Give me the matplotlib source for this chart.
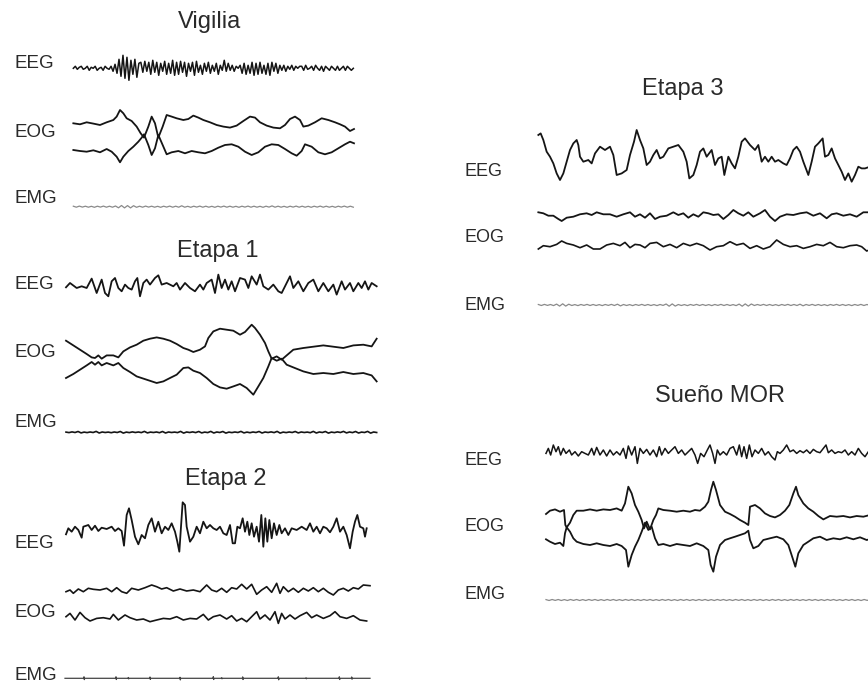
import numpy as np
import matplotlib
matplotlib.use("Agg")
import matplotlib.pyplot as plt

plt.rcParams['font.family'] = ['Liberation Sans', 'DejaVu Sans']

W, H = 868, 685
SAMPLES_PER_PX = 3.0

# ---------------- Vigilia ----------------
vig_eeg = [0, 2, -1, 1, 2, -1, 0, 2, -2, 1, 0, 2, -2, 0, 1, -2, 2, 0, -1,
           2, -3, 4, -5, 9, -8, 13, -10, 11, -12, 8, -6, 9, -9, 5,
           6, -4, 7, -3, 6, -6, 8, -4, 6, -7, 5, -3, 7, -6, 5, -5, 8, -7, 6, -6, 7, -4,
           6, -8, 5, -3, 6, -7, 7, -4, 3, -6, 5, -3, 6, -5, 3, -3, 5, -6, 3, -2, 8, -3,
           5, -2, 3, -3, 2, 0, 3, -5, 5, -6, 3, -5, 6, -7, 5, -6, 6, -5, 3, -6, 5, -7,
           6, -3, 5, -5, 3, -2, 3, -3, 2, -1, 3, -2, 2, 0, 2,
           2, -2, 3, -1, 0, 2, -2, 3, 0, -2, 2, -3, 2, 0, -2, 2, 0, -2, 2, -2, 0, 2,
           -2, 2, 0, -2, 0]

vig_eog_t = [10, 30, 50, 70, 90, 110, 130, 140, 150, 160, 170, 185, 200, 212, 222,
             235, 245, 255, 265, 278, 290, 305, 320, 340, 355, 370, 385, 400, 420,
             440, 460, 480, 500, 520, 540, 555, 570, 590, 610, 630, 645, 660, 675,
             690, 700, 715, 735, 755, 775, 795, 810, 825, 840, 852]
vig_eog_up = [0, -1, 1, -0.3, -1.7, 1, 3.3, 6.7, 13.3, 10, 5, 2.3, -3.3, -10, -14.3,
              -3.3, 6.7, 0, -14.3, -3.3, 8.3, 6.7, 5, 3.3, 4.3, 7.7, 5.7, 3.3, 1,
              -1.7, -3.3, -4.3, -2.3, 2.3, 6.7, 5.7, 1, -2.3, -4.3, -5, -1.7, 4.3, 6.7,
              3.3, -3.3, -2.3, 1, 5, 3.3, 1, -1, -3.3, -7.7, -5.7]
vig_eog_lo_t = [10, 30, 50, 70, 90, 110, 125, 140, 150, 160, 175, 190, 205, 215, 222,
                235, 245, 255, 265, 278, 290, 305, 325, 345, 365, 385, 405, 425, 445,
                465, 485, 505, 525, 545, 565, 585, 605, 625, 645, 665, 680, 695, 705,
                725, 745, 765, 785, 805, 825, 840, 852]
vig_eog_lo = [1, 0, -0.7, 0.7, -1.3, 2, -0.7, -5.7, -11.3, -5.7, 0, 4.3, 9.3, 13.3, 16.7,
              6, -4, 2.7, 16, 6, -3.3, -1.3, 0, -2.3, 0, -1.3, -2.3, 0, 3.3,
              6, 6.7, 4.3, -0.7, -4, -1.3, 4.3, 6.7, 6, 2, -2.3, -4.7, 0, 6.7,
              4.3, -1.3, -3.3, -1.3, 2.7, 6.7, 9.3, 7.7]
vig_emg = [0.5, -0.5, 0.6, -0.4, 0.5, -0.5, 0.4, -0.6, 0.5, -0.4, 0.6, -0.5, 0.5, -0.5,
           0.7, -1.1, 1.2, -1.2, 1.1, -1.2, 1.0, -0.6, 0.5, -0.5, 0.6, -0.4, 0.5, -0.5,
           0.4, -0.6, 0.5, -0.4, 0.6, -0.5, 0.5, -0.5, 0.9, -0.5, 0.4, -0.6, 0.5, -0.4,
           0.6, -0.5, 0.5, -0.5, 0.4, -0.6, 0.5, -0.4, 0.6, -0.5, 0.5, -0.5, 0.4, -0.6,
           0.5, -0.4, 0.6, -0.5, 0.5, -0.5, 0.4, -0.6, 0.5, -0.4, 0.8, -0.5, 0.5, -0.5,
           0.4, -0.6, 0.5, -0.4, 0.6, -0.5, 0.5, -0.5, 0.4, -0.6, 0.5, -0.4, 0.6, -0.5,
           0.5, -0.5, 0.4, -0.6, 0.5, -0.4, 0.6, -0.5, 0.5, -0.5]

# ---------------- Etapa 1 ----------------
e1_eeg_t = [18, 30, 50, 65, 80, 95, 110, 125, 135, 145, 155, 165, 175, 185, 195, 205,
            215, 225, 232, 240, 250, 260, 270, 285, 295, 305, 320, 340, 350, 360, 375,
            390, 405, 420, 430, 440, 455, 465, 475, 485, 495, 505, 515, 525, 540, 555,
            565, 575, 590, 600, 610, 625, 640, 655, 665, 680, 690, 700, 715, 730, 745,
            760, 775, 790, 805, 820, 830, 845, 855, 870, 880, 895, 905, 915, 925, 935, 950]
e1_eeg = [0, 4.3, -0.7, 1, -0.7, 8.7, -5.7, 7.7, -5.7, -9, 6, 9.3, -0.7, -4, 2.7, -0.7,
          -2.3, 6, 9.3, -9, 4.3, 7.7, 2.7, 9.3, 12, 2.7, 4.3, 1, 4.3, -2.3, 4.3,
          -0.7, -4, 2.7, -2.3, 4.3, 7.7, -5.7, 12.7, -0.7, 7.7, -2.3, 6, -4, 9.3, 7.7,
          -0.7, 11, 2.7, 12.7, 1, -2.3, 2.7, -4, -5.7, 4.3, 11, -0.7, 6, -4, 4.3,
          7.7, -4, 4.3, -4, 2.7, -7.3, 6, -2.3, 4.3, -4, 4.3, -0.7, 6, -2.3, 4.3, 1]

e1_eog_up_t = [18, 40, 60, 80, 95, 105, 115, 125, 140, 160, 175, 190, 210, 230, 250, 270,
               290, 310, 330, 350, 370, 385, 400, 420, 435, 445, 460, 480, 500, 520, 540,
               555, 575, 585, 600, 615, 625, 635, 650, 665, 680, 700, 730, 760, 790, 820,
               850, 880, 910, 935, 950]
e1_eog_up = [19, 14.3, 10, 5.7, 2.3, 1.7, 4.3, 1, 4.3, 4.3, 2.3, 8.3, 12.3, 15, 19, 21,
             22.3, 21, 19, 15.7, 11.7, 10, 7.7, 10, 13.3, 21.7, 28.3, 31, 30, 29, 25,
             27.7, 35, 31.7, 25, 16.7, 8.3, 1, 3.3, 0, 4.3, 10, 11.7, 13, 14.3, 13,
             11.7, 14.3, 15, 13.3, 21]
e1_eog_lo_t = [18, 40, 60, 80, 95, 105, 115, 125, 140, 160, 175, 190, 210, 230, 260, 290,
               310, 330, 350, 370, 385, 400, 420, 440, 460, 480, 500, 520, 540, 560, 580,
               595, 610, 625, 635, 650, 665, 680, 700, 730, 760, 790, 820, 850, 880, 910,
               935, 950]
e1_eog_lo = [-18.3, -14.3, -10, -5.7, -2.3, -5, -2.3, -5.7, -3.3, -5.7, -3.3, -8.3, -12.3,
             -16.7, -20, -23.3, -21.7, -18.3, -15, -8.3, -7.7, -11, -13.3, -18.3, -24.3,
             -27.7, -29, -26.7, -24.3, -28.3, -35, -26.7, -18.3, -6.7, 1.7, -1, 1, -5,
             -7.7, -11.7, -14.3, -13.3, -14.3, -12.3, -14.3, -13.3, -15.7, -21.7]
e1_emg = [0.2, -0.3, 0.4, -0.2, 0.8, -0.6, 0.2, -0.3, 0.3, -0.2, 0.9, -0.7, 0.3, -0.2,
          0.2, -0.4, 0.3, -0.2, 0.8, -0.8, 0.2, -0.3, 0.4, -0.2, 0.3, -0.3, 0.9, -0.6,
          0.2, -0.2, 0.3, -0.4, 0.8, -0.7, 0.3, -0.2, 0.2, -0.3, 0.9, -0.8, 0.3, -0.2,
          0.4, -0.3, 0.8, -0.6, 0.2, -0.3, 0.9, -0.7, 0.3, -0.2, 0.8, -0.8, 0.2, -0.3,
          0.3, -0.2, 0.9, -0.6, 0.2, -0.4, 0.3, -0.2, 0.8, -0.7, 0.3, -0.2, 0.4, -0.3,
          0.9, -0.8, 0.2, -0.3, 0.3, -0.2, 0.8, -0.6, 0.3, -0.2, 0.2, -0.4, 0.9, -0.7,
          0.3, -0.2, 0.8, -0.8, 0.2, -0.3, 0.4, -0.2, 0.9, -0.6, 0.3, -0.3, 0.8, -0.7,
          0.2, -0.2, 0.9, -0.8, 0.3, -0.2]

# ---------------- Etapa 2 ----------------
e2_eeg_t = [18, 25, 35, 45, 55, 65, 70, 85, 95, 105, 115, 125, 140, 155, 165, 175, 185,
            192, 200, 207, 215, 225, 235, 245, 255, 265, 275, 285, 295, 305, 315, 325,
            335, 345, 352, 358, 363, 368, 375, 380, 390, 400, 410, 420, 430, 440, 450,
            460, 470, 480, 490, 500, 510, 518, 525, 532, 540, 548, 555, 562, 568, 575,
            582, 590, 597, 604, 610, 616, 622, 628, 635, 642, 650, 658, 665, 675, 685,
            695, 710, 725, 740, 750, 760, 770, 780, 790, 800, 810, 820, 830, 840, 850,
            860, 870, 878, 885, 892, 900, 910, 915, 920]
e2_eeg = [-4.3, 1.7, -1.7, 3.3, 0, -7.7, 3.3, 5, 0, 4.3, -1, 2.3, 1, 3.3, -1, 1.7, -1,
          -15.7, 15, 21.7, 10, -6.7, -14.3, -5, -8.3, 5, 11.7, -1.7, 8.3, -3.3, 3.3, 0,
          6.7, -1.7, -11.7, -21.7, 3.3, 27.7, 25, 3.3, -11.7, -6.7, 3.3, -3.3, 8.3, 1.7, 5,
          1.7, 0, 3.3, -3.3, -5, 5, -13.3, -13.3, 3.3, 1.7, 11.7, -1.7, 8.3, -5, 6.7,
          -6.7, 3.3, -11.7, 15, -16.7, 11.7, -11.7, 10, -8.3, 6.7, -5, 5, -3.3, 1.7, -5,
          1.7, 0, 3.3, 0, 6.7, -1.7, 3.3, -3.3, 3.3, 1.7, -2.3, 3.3, 11.7, -1.7, 3.3,
          -5, -18.3, -1.7, 8.3, 15, 3.3, 1.7, -6.7, 1.7]

e2_eog_up_t = [18, 30, 40, 55, 70, 85, 100, 120, 140, 155, 170, 185, 200, 215, 235, 255,
               275, 290, 305, 320, 340, 360, 380, 400, 420, 440, 455, 470, 485, 500, 515,
               530, 545, 560, 575, 590, 605, 620, 635, 650, 660, 670, 685, 700, 715, 730,
               745, 760, 775, 790, 805, 820, 835, 850, 865, 880, 895, 910, 930]
e2_eog_up = [-1.7, 0, -3.3, 1, -1.7, 1.7, 0.7, 0, 1.7, -1.7, 2.3, -1.7, -3.3, 1.7, 0, 2.3,
             5, 3.3, 1, 2.3, -1, 1, -1, 0, -1.7, 5, 0, -1.7, 1.7, -2.3, 2.3,
             1, 5.7, 1, 5.7, -4.3, 0, 3.3, -2.3, 6.7, -3.3, 3.3, -1.7, 1.7, -2.3, 1.7,
             -1, 2.3, -1.7, 1.7, -2.3, -5, 0, 1.7, -1, 2.3, 1, 5, 4.3]
e2_eog_lo_t = [18, 30, 45, 60, 75, 90, 110, 130, 150, 160, 175, 195, 210, 230, 250, 270,
               290, 310, 330, 350, 370, 390, 410, 430, 445, 460, 480, 500, 515, 530, 545,
               560, 575, 590, 600, 615, 630, 645, 655, 665, 675, 690, 705, 720, 740, 755,
               770, 790, 810, 825, 840, 860, 880, 900, 920]
e2_eog_lo = [1, 4.3, -2.3, 5.3, 0, -3.3, -0.7, 0, -1.3, 3.3, -2.3, 2.7, 0, -2.3, -1.3, -4,
             -2.3, -0.7, -1.3, 1, -2.3, -0.7, -1.3, 3.3, -2.3, 1, 2.7, -1.3, 2, -3.3, -0.7,
             -4, 1, 6, -1.3, 2.7, -2.3, 6, -5.7, 4.3, -1.3, 2.7, -1.3, 2, 5.3, 0,
             2.7, -0.7, 2, 6, 1, -0.7, 2, -2.3, -3.3]
e2_emg_t = [15, 71, 72, 73, 74, 167, 168, 169, 170, 204, 205, 206, 207, 269, 270, 271, 272,
            359, 360, 361, 362, 459, 460, 461, 462, 484, 485, 486, 487, 547, 548, 549, 550,
            654, 655, 656, 657, 737, 738, 739, 740, 837, 838, 839, 840, 874, 875, 876, 877, 930]
e2_emg = [0, 0, 1.5, -1.3, 0, 0, 1.5, -1.2, 0, 0, 0.8, -0.6, 0, 0, 1.3, -1.1, 0,
          0, 1.0, -1.6, 0, 0, 1.6, -1.2, 0, 0, 0.6, -0.5, 0, 0, 1.4, -1.2, 0,
          0, 1.5, -1.5, 0, 0, 0.5, -0.5, 0, 0, 1.5, -1.2, 0, 0, 1.3, -0.9, 0, 0]

# ---------------- Etapa 3 ----------------
e3_eeg_t = [25, 32, 40, 50, 60, 70, 80, 90, 100, 110, 120, 130, 140, 145, 150, 160, 175,
            185, 195, 210, 225, 240, 250, 260, 275, 290, 300, 312, 320, 330, 340, 350,
            360, 370, 380, 390, 400, 415, 430, 445, 460, 470, 478, 490, 500, 510, 520,
            530, 545, 555, 565, 575, 583, 595, 605, 615, 625, 635, 645, 660, 675, 685,
            695, 705, 715, 725, 735, 745, 760, 770, 780, 790, 800, 810, 820, 835, 845,
            855, 865, 878, 885, 895, 905, 915, 925, 935, 945, 955, 965, 975, 985, 995,
            1005, 1020]
e3_eeg = [21.7, 23.3, 16.7, 5, 0, -6.7, -16.7, -23.3, -16.7, -5, 6.7, 13.3, 16.7, 11.7, 0,
          -5, -3.3, -6.7, 3.3, 10, 6.7, 10, 1.7, -18.3, -16.7, -13.3, 1.7, 15, 26.7, 16.7,
          8.3, -8.3, -5, 1.7, 6.7, -1.7, 0, 8.3, 10, 11.7, 5, -5, -21.7, -18.3, -8.3,
          5, 8.3, 0, 6.7, -8.3, -1.7, 0, -18.3, 0, -6.7, -11.7, 0, 15, 18.3, 11.7, 6.7,
          11.7, -5, 0, -5, 0, -5, -3.3, -6.7, -8.3, -1.7, 6.7, 10, 5, -5, -18.3, -5,
          10, 13.3, 18.3, 0, 1.7, 8.3, -1.7, -8.3, -15, -23.3, -16.7, -25, -18.3, -10,
          -11.7, -11.7, -10]

e3_eog_up_t = [25, 40, 55, 70, 85, 95, 110, 130, 150, 170, 185, 200, 220, 240, 260, 280,
               300, 315, 330, 345, 360, 375, 390, 410, 430, 445, 460, 475, 490, 505, 520,
               535, 550, 565, 580, 595, 610, 625, 640, 655, 670, 690, 705, 720, 735, 750,
               770, 790, 810, 830, 850, 870, 890, 905, 920, 940, 960, 980, 1000, 1020]
e3_eog_up = [2.7, 1.7, -0.7, -0.7, -4, -6, -2.7, -1.7, 0.7, 1.7, 0, 2.7, 0.7, 0.7, -1.7,
             0.7, 2.7, -1.7, 0.7, -2.7, 1.7, -4, -1.7, -0.7, 2.7, 0, 1.7, -2.7, 0.7, -1.7,
             2.7, 1.7, 0, 0.7, -4, 0, 5, 1.7, -0.7, 2.7, -1.7, 1.7, 5, -1.7, -6, -1.7,
             0.7, 0, 1.7, 2.7, -0.7, 1.7, -3.3, 0.7, 1.7, -0.7, 0.7, -1.7, 2.7, 2.7]
e3_eog_lo_t = [25, 40, 60, 80, 95, 110, 130, 150, 170, 190, 210, 230, 250, 270, 285, 300,
               315, 330, 345, 360, 380, 400, 420, 440, 460, 480, 500, 520, 540, 560, 580,
               600, 620, 640, 660, 680, 700, 720, 740, 760, 780, 800, 820, 840, 860, 880,
               900, 920, 940, 960, 980, 995, 1010, 1020]
e3_eog_lo = [-2.3, 1, 0, 2.3, 5.7, 3.3, 1.7, -1, 1.7, -2.3, -2.3, 1.7, 3.3, 1, 4.3, -1,
             2.3, 1.7, -1, 3.3, 4.3, 0, 2.3, -1, 3.3, 1, 3.3, 1, -3.3, 0, 1,
             5, 1.7, 3.3, -1.7, 1, -2.3, 0, 6.7, 2.3, 0, 1, -1.7, 0, 2.3, 1,
             4.3, 0, -1, 1, 1.7, 0, -4.3, -3]
e3_emg = [0.5, -0.5, 0.6, -0.4, 0.5, -0.6, 0.9, -1.1, 1.2, -1.1, 0.8, -0.5, 0.4, -0.6,
          0.5, -0.4, 0.6, -0.5, 0.5, -0.5, 0.4, -0.6, 0.5, -0.4, 0.6, -0.5, 0.8, -0.9,
          0.5, -0.5, 0.4, -0.6, 0.5, -0.4, 0.6, -0.5, 0.5, -0.5, 0.4, -0.6, 0.5, -0.4,
          1.0, -1.2, 1.1, -1.1, 0.5, -0.5, 0.4, -0.6, 0.5, -0.4, 0.6, -0.5, 0.5, -0.5,
          0.4, -0.6, 0.5, -0.4, 0.6, -0.5, 0.5, -0.5, 0.4, -0.6, 0.9, -1.2, 1.1, -1.1,
          1.0, -0.5, 0.5, -0.4, 0.6, -0.5, 0.5, -0.5, 0.4, -0.6, 0.5, -0.4, 0.6, -0.5,
          0.5, -0.5, 0.8, -0.8, 0.5, -0.4, 0.6, -0.5, 0.5, -0.5, 0.4, -0.6, 0.5, -0.4,
          0.6, -0.5, 0.5, -0.5, 0.4, -0.6, 0.5, -0.4, 0.6, -0.5, 0.5, -0.5]

# ---------------- Sueño MOR ----------------
mor_eeg_t = [18, 25, 32, 40, 48, 55, 62, 70, 78, 88, 95, 105, 115, 125, 135, 145, 155, 162,
             170, 180, 190, 200, 210, 220, 230, 240, 250, 258, 265, 275, 285, 292, 300,
             310, 320, 330, 340, 350, 358, 365, 375, 385, 395, 405, 415, 425, 435, 445,
             455, 465, 473, 482, 492, 502, 510, 518, 525, 532, 540, 550, 560, 570, 580,
             590, 598, 605, 612, 620, 628, 636, 645, 655, 665, 675, 685, 695, 705, 712,
             720, 730, 740, 750, 760, 770, 780, 790, 800, 810, 820, 830, 840, 850, 858,
             865, 875, 885, 895, 905, 915, 925, 935, 945, 955, 965, 975, 985, 1000]
mor_eeg = [-0.7, 4.3, -2.3, 7.7, 1, 6, -2.3, 4.3, -0.7, 2.7, -2.3, 1, -3.3, 1, -0.7, -2.3,
           4.3, -2.3, 5.3, -2.3, 2.7, -3.3, 2.7, -2.3, 1, -2.3, 4.3, -5.7, 6.7, -2.3, 6,
           -10.7, 4.3, -0.7, 3.3, -2.3, 2.7, -4, 6, -2.3, 4.3, -0.7, 2.7, 6, -0.7, 2.7,
           -2.3, 1, 4.3, -2.3, -10.7, -0.7, -4, 2.7, 7.7, -0.7, -10.7, 2.7, -2.3, 1, -2.3,
           4.3, 6, -2.3, 7.7, -4, 6, -5.7, 7.7, -4, 2.7, -0.7, 4.3, -2.3, 1, -4, -7.3, 1,
           -0.7, 2.7, 7.7, 1, 2.7, -0.7, 2, 0, 2.7, -0.7, 3.3, 1, 0, 4.3, 7.7, 0, 2.7,
           -0.7, 1, 0, 2.7, -2.3, 1, -2.3, 4.3, -0.7, -4, 1, 0]

mor_eog_up_t = [18, 30, 45, 60, 72, 76, 80, 90, 100, 110, 130, 150, 170, 190, 210, 230,
                245, 255, 265, 275, 285, 295, 305, 312, 320, 330, 340, 348, 355, 370, 390,
                410, 430, 450, 465, 480, 495, 505, 513, 520, 528, 540, 555, 570, 585, 600,
                615, 625, 630, 645, 660, 675, 690, 705, 720, 735, 748, 760, 768, 775, 790,
                805, 820, 835, 850, 870, 890, 910, 930, 950, 970, 990, 1000]
mor_eog_up = [-2.3, 1, 2.3, 0, 1.7, -13.3, -15.7, -11, -3.3, 1, 1, 2.3, 1, 2.3, 1.7, 3.3,
              1, 8.3, 25, 18.3, 6.7, 0, -8.3, -16.7, -10, -17.7, -8.3, -3.3, 3.3, 1.7, 1,
              0, 1, 0, 1.7, 1, 5, 10, 21.7, 30, 21.7, 6.7, 0, -2.3, -5, -8.3,
              -11, -13.3, 5, 6.7, 3.3, -1.7, -4.3, -5.7, -3.3, 1, 6.7, 18.3, 25, 16.7, 8.3,
              3.3, 0, -4.3, -7.7, -4.3, -5, -4.3, -5.7, -4.3, -5, -3.3, -4]
mor_eog_lo_t = [18, 30, 45, 60, 70, 75, 80, 90, 100, 110, 130, 150, 170, 190, 210, 230,
                245, 258, 265, 275, 285, 295, 305, 315, 325, 335, 345, 355, 370, 390, 410,
                430, 450, 470, 490, 505, 512, 520, 528, 540, 555, 570, 585, 600, 615, 625,
                630, 640, 655, 670, 690, 710, 730, 745, 758, 766, 775, 790, 805, 820, 840,
                860, 880, 900, 920, 940, 960, 980, 1000]
mor_eog_lo = [0.7, -1.7, -4, -2.7, -6, 6.7, 12.7, 8.3, 1.7, -1.7, -4, -5, -3.3, -5, -6, -4,
              -6, -10, -26.7, -15, -6.7, 0, 8.3, 17.3, 10, 13.3, 1.7, -5, -4, -6, -4,
              -5, -6, -3.3, -6, -10, -25, -31.7, -16.7, -5, 0, 1.7, 3.3, 5, 6.7, 9.3,
              0, -8.3, -6, 0, 1.7, 3.3, 0.7, -5, -18.3, -26.7, -13.3, -5, -1.7, 1.7, 3.3,
              0, 1.7, 0.7, 2.7, 0.7, 2.7, 0, 1.7]
mor_emg = [0.4, -0.5, 0.5, -0.4, 0.5, -0.5, 0.4, -0.5, 0.5, -0.4, 0.5, -0.5, 0.4, -0.5,
           0.5, -0.4, 0.5, -0.5, 0.4, -0.5, 0.5, -0.4, 0.5, -0.5, 0.4, -0.5, 0.5, -0.4,
           0.5, -0.5, 0.4, -0.5, 0.5, -0.4, 0.5, -0.5, 0.4, -0.5, 0.5, -0.4, 0.5, -0.5,
           0.4, -0.5, 0.5, -0.4, 0.5, -0.5, 0.4, -0.5, 0.5, -0.4, 0.5, -0.5, 0.4, -0.5,
           0.5, -0.4, 0.5, -0.5, 0.4, -0.5, 0.5, -0.4, 0.5, -0.5, 0.4, -0.5, 0.5, -0.4,
           0.5, -0.5, 0.4, -0.5, 0.5, -0.4, 0.5, -0.5, 0.4, -0.5, 0.5, -0.4, 0.5, -0.5,
           0.4, -0.5, 0.5, -0.4, 0.5, -0.5, 0.4, -0.5, 0.5, -0.4, 0.5, -0.5, 0.4, -0.5,
           0.5, -0.4, 0.5, -0.5, 0.4, -0.5, 0.5, -0.4, 0.5, -0.5]

titles = ["Vigilia", "Etapa 1", "Etapa 2", "Etapa 3", "Sueño MOR"]
channels = ["EEG", "EOG", "EMG"]

fig = plt.figure(figsize=(W / 100, H / 100), dpi=100)
fig.patch.set_facecolor('white')

INK = '#151515'
GREY = '#8a8a8a'


def trace(t, v, origin, y0, color=INK, lw=1.3):
    # one transparent axes per trace; 1 y-unit = 1 pixel, t in samples
    t = np.asarray(t, float)
    x0 = origin + t.min() / SAMPLES_PER_PX
    x1 = origin + t.max() / SAMPLES_PER_PX
    half = 45
    ax = fig.add_axes([x0 / W, 1 - (y0 + half) / H, (x1 - x0) / W, 2 * half / H])
    ax.set_xlim(t.min(), t.max())
    ax.set_ylim(-half, half)
    ax.axis('off')
    ax.patch.set_alpha(0)
    ax.plot(t, v, color=color, lw=lw, clip_on=False)
    return ax


def uniform(vals, t0, t1):
    return np.linspace(t0, t1, len(vals))


# Vigilia (left, top)
trace(uniform(vig_eeg, 10, 850), vig_eeg, 70, 68.3, lw=1.1)
trace(vig_eog_t, vig_eog_up, 70, 123.3)
trace(vig_eog_lo_t, vig_eog_lo, 70, 151)
trace(uniform(vig_emg, 10, 850), vig_emg, 70, 206.7, color=GREY, lw=0.9)

# Etapa 1
trace(e1_eeg_t, e1_eeg, 60, 287.3)
trace(e1_eog_up_t, e1_eog_up, 60, 359.7)
trace(e1_eog_lo_t, e1_eog_lo, 60, 359.7)
trace(uniform(e1_emg, 18, 950), e1_emg, 60, 432.3, lw=1.2)

# Etapa 2
trace(e2_eeg_t, e2_eeg, 60, 530)
trace(e2_eog_up_t, e2_eog_up, 60, 590, lw=1.2)
trace(e2_eog_lo_t, e2_eog_lo, 60, 617.7, lw=1.2)
trace(e2_emg_t, e2_emg, 60, 678.3, color='#444444', lw=0.9)

# Etapa 3 (right, top)
trace(e3_eeg_t, e3_eeg, 530, 156.7)
trace(e3_eog_up_t, e3_eog_up, 530, 215)
trace(e3_eog_lo_t, e3_eog_lo, 530, 246.7, lw=1.2)
trace(uniform(e3_emg, 25, 1020), e3_emg, 530, 305, color=GREY, lw=0.9)

# Sueño MOR
trace(mor_eeg_t, mor_eeg, 540, 452.7, lw=1.1)
trace(mor_eog_up_t, mor_eog_up, 540, 511.7)
trace(mor_eog_lo_t, mor_eog_lo, 540, 540)
trace(uniform(mor_emg, 18, 1000), mor_emg, 540, 600, color=GREY, lw=0.9)

# text
TXT = '#2a2a2a'
title_pos = [(209.7, 28.3), (217.5, 256.7), (225.5, 485), (682.5, 95), (720, 401.7)]
for name, (x, y) in zip(titles, title_pos):
    fig.text(x / W, 1 - y / H, name, ha='center', va='baseline', fontsize=17, color=TXT)

label_rows = [
    (15, [68.3, 136.7, 202.7], 13.5),
    (15, [289.3, 357.3, 426.7], 13.5),
    (15, [548.3, 616.7, 680.5], 13.5),
    (465, [175.7, 242.3, 310], 13),
    (465, [465, 530.7, 599], 13),
]
for x, ys, fs in label_rows:
    for ch, y in zip(channels, ys):
        fig.text(x / W, 1 - y / H, ch, ha='left', va='baseline', fontsize=fs, color=TXT)

fig.savefig('out.png', dpi=100, facecolor='white')
